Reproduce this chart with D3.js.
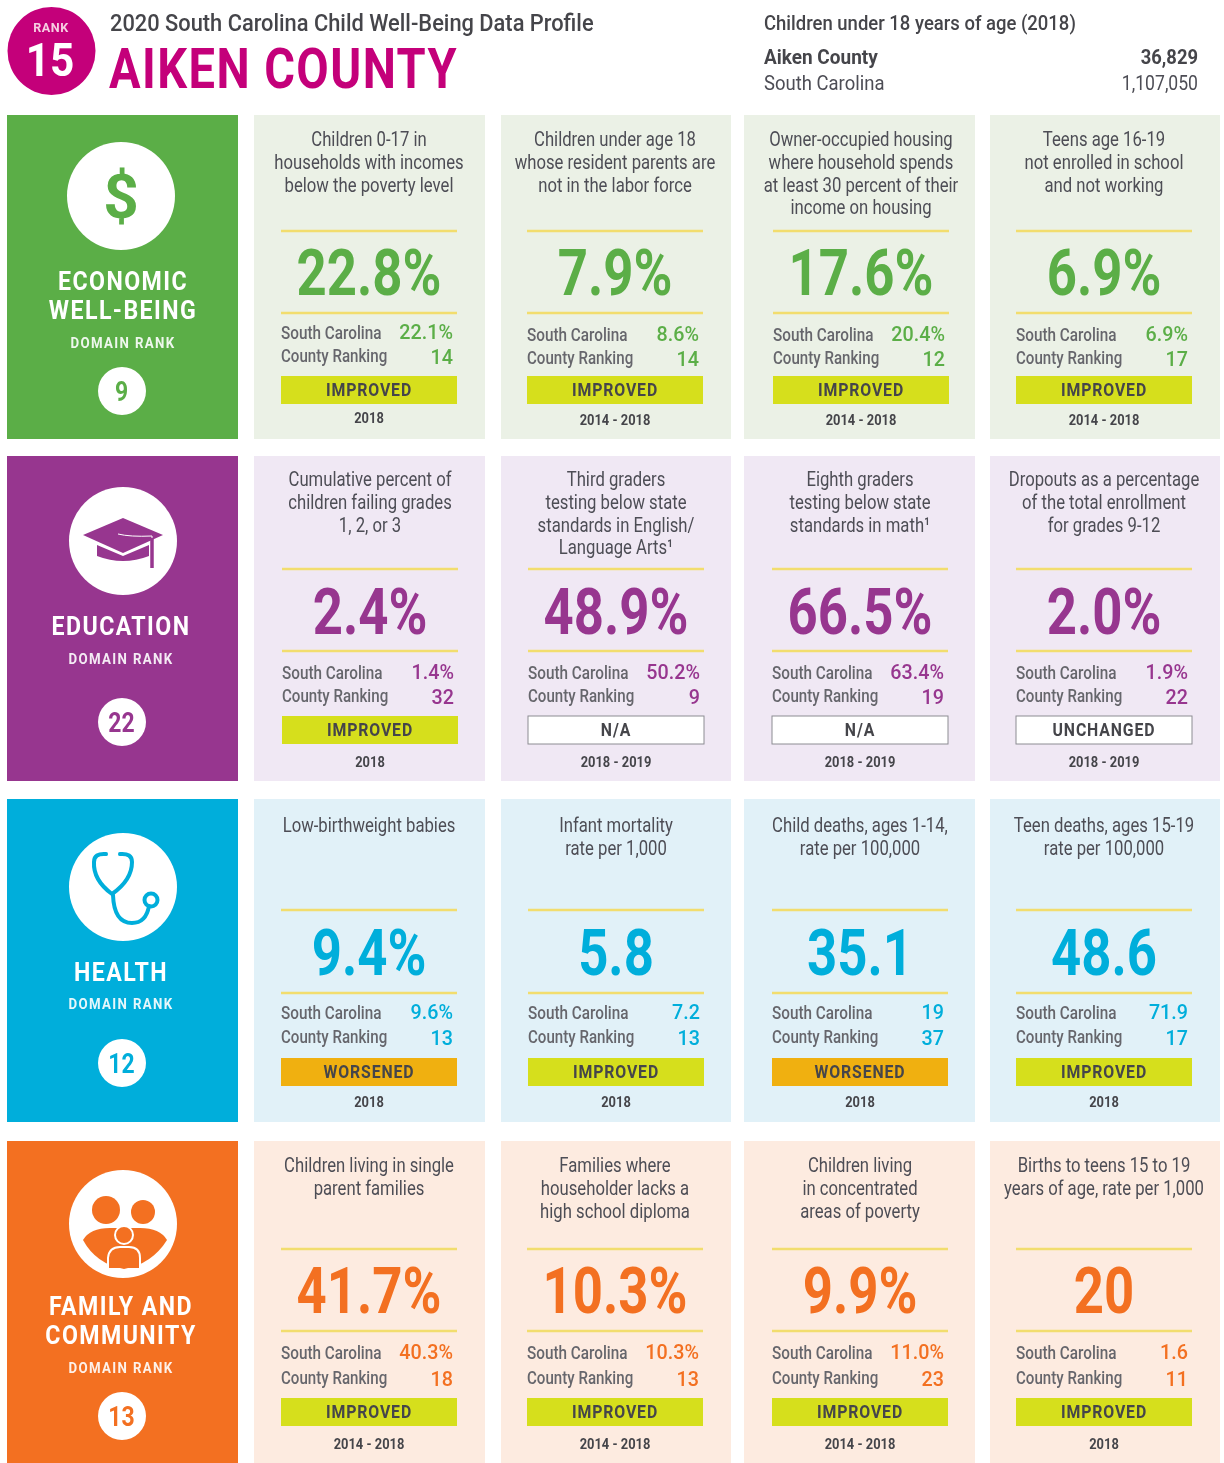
<!DOCTYPE html>
<html>
<head>
<meta charset="utf-8">
<script src="https://cdn.jsdelivr.net/npm/d3@7"></script>
<style>
  html, body { margin: 0; padding: 0; background: #fff; overflow: hidden; }
  text { font-family: Roboto, sans-serif; }
  svg { filter: blur(0.45px); }
</style>
</head>
<body>
<div id="myChart"></div>
<script>
// data
const domains = [["ECONOMIC", "WELL-BEING"], ["EDUCATION"], ["HEALTH"], ["FAMILY AND", "COMMUNITY"]];
const domainRanks = [9, 22, 12, 13];

const descriptions = [
  ["Children 0-17 in|households with incomes|below the poverty level",
   "Children under age 18|whose resident parents are|not in the labor force",
   "Owner-occupied housing|where household spends|at least 30 percent of their|income on housing",
   "Teens age 16-19|not enrolled in school|and not working"],
  ["Cumulative percent of|children failing grades|1, 2, or 3",
   "Third graders|testing below state|standards in English/|Language Arts¹",
   "Eighth graders|testing below state|standards in math¹",
   "Dropouts as a percentage|of the total enrollment|for grades 9-12"],
  ["Low-birthweight babies",
   "Infant mortality|rate per 1,000",
   "Child deaths, ages 1-14,|rate per 100,000",
   "Teen deaths, ages 15-19|rate per 100,000"],
  ["Children living in single|parent families",
   "Families where|householder lacks a|high school diploma",
   "Children living|in concentrated|areas of poverty",
   "Births to teens 15 to 19|years of age, rate per 1,000"]
];
const countyValues = [
  ["22.8%", "7.9%", "17.6%", "6.9%"],
  ["2.4%", "48.9%", "66.5%", "2.0%"],
  ["9.4%", "5.8", "35.1", "48.6"],
  ["41.7%", "10.3%", "9.9%", "20"]
];
const stateValues = [
  ["22.1%", "8.6%", "20.4%", "6.9%"],
  ["1.4%", "50.2%", "63.4%", "1.9%"],
  ["9.6%", "7.2", "19", "71.9"],
  ["40.3%", "10.3%", "11.0%", "1.6"]
];
const countyRanks = [
  [14, 14, 12, 17],
  [32, 9, 19, 22],
  [13, 13, 37, 17],
  [18, 13, 23, 11]
];
const statuses = [
  ["IMPROVED", "IMPROVED", "IMPROVED", "IMPROVED"],
  ["IMPROVED", "N/A", "N/A", "UNCHANGED"],
  ["WORSENED", "IMPROVED", "WORSENED", "IMPROVED"],
  ["IMPROVED", "IMPROVED", "IMPROVED", "IMPROVED"]
];
const periods = [
  ["2018", "2014 - 2018", "2014 - 2018", "2014 - 2018"],
  ["2018", "2018 - 2019", "2018 - 2019", "2018 - 2019"],
  ["2018", "2018", "2018", "2018"],
  ["2014 - 2018", "2014 - 2018", "2014 - 2018", "2018"]
];

// colours
const strong = ["#5bae47", "#97368f", "#00aedb", "#f37021"];
const pale = ["#ebf1e6", "#f0e8f4", "#e1f1f8", "#fdebe0"];
const statusFill = d3.scaleOrdinal(
  ["IMPROVED", "WORSENED", "N/A", "UNCHANGED"],
  ["#d6df1c", "#f0b010", "#ffffff", "#ffffff"]
);
const magenta = "#c4007a", ink = "#4d4d55", dark = "#45454a", rule = "#f2dd6e";

// layout
const rows = d3.range(4), cols = d3.range(4);
const rowTop = d3.scaleOrdinal(rows, [115, 456, 799, 1141]);
const rowHeight = d3.scaleOrdinal(rows, [324, 325, 323, 330]);
const colLeft = d3.scaleOrdinal(cols, [254, 501, 744, 990]);
const colWidth = d3.scaleOrdinal(cols, [231, 230, 231, 230]);
const ruleLeft = d3.scaleOrdinal(cols, [281, 527, 772, 1016]);
const ruleWidth = 176;

// y positions inside each row
const descY = d3.scaleOrdinal(rows, [139, 479, 825, 1165]);
const rule1Y = d3.scaleOrdinal(rows, [231, 569, 910, 1249]);
const rule2Y = d3.scaleOrdinal(rows, [313, 651, 993, 1331]);
const bigY = d3.scaleOrdinal(rows, [272, 611, 952, 1290]);
const stateY = d3.scaleOrdinal(rows, [335, 673, 1013, 1353]);
const rankY = d3.scaleOrdinal(rows, [358, 696, 1037, 1378]);
const barY = d3.scaleOrdinal(rows, [376, 716, 1058, 1398]);
const periodY = d3.scaleOrdinal(rows, [420, 762, 1102, 1444]);

const svg = d3
  .select("#myChart")
  .append("svg")
  .attr("width", 1224)
  .attr("height", 1463)
  .style("display", "block");

// draw horizontally squeezed text, the original uses a condensed face
function label(parent, x, y, str, o) {
  return parent
    .append("text")
    .attr("transform", "translate(" + x + "," + y + ") scale(" + (o.sx || 0.8) + ",1)")
    .attr("dy", ".36em")
    .attr("text-anchor", o.anchor || "middle")
    .attr("font-size", o.size)
    .attr("font-weight", o.weight || 400)
    .attr("letter-spacing", o.spacing || 0)
    .attr("fill", o.fill || ink)
    .text(str);
}

// header
svg.append("circle").attr("cx", 51.5).attr("cy", 51).attr("r", 44).attr("fill", magenta);
label(svg, 51, 28, "RANK", { size: 12, weight: 700, fill: "#f6cfe2", sx: 1.05, spacing: 0.5 });
label(svg, 50, 59, "15", { size: 46, weight: 700, fill: "#fff", sx: 0.92 });
label(svg, 110, 22, "2020 South Carolina Child Well-Being Data Profile", { size: 24, weight: 500, fill: dark, anchor: "start", sx: 0.91 });
label(svg, 109, 68, "AIKEN COUNTY", { size: 56, weight: 700, fill: magenta, anchor: "start", sx: 0.84, spacing: 1.7 });
label(svg, 764, 23, "Children under 18 years of age (2018)", { size: 20, weight: 500, fill: dark, anchor: "start", sx: 0.925 });
label(svg, 764, 57, "Aiken County", { size: 20, weight: 700, fill: dark, anchor: "start", sx: 0.95 });
label(svg, 1198, 57, "36,829", { size: 20, weight: 700, fill: dark, anchor: "end", sx: 0.92 });
label(svg, 764, 83, "South Carolina", { size: 20, fill: ink, anchor: "start", sx: 0.925 });
label(svg, 1198, 83, "1,107,050", { size: 20, fill: ink, anchor: "end", sx: 0.88 });

// domain panels on the left
const iconCenters = [[121, 196], [123, 541], [123, 887], [123, 1224]];
const titleY = [[281, 310], [626], [972], [1306, 1335]];
const domainRankY = [343, 659, 1004, 1368];
const rankCircleY = [391, 722, 1063, 1416];

rows.forEach((r) => {
  const g = svg.append("g");
  g.append("rect")
    .attr("x", 7).attr("y", rowTop(r))
    .attr("width", 231).attr("height", rowHeight(r))
    .attr("fill", strong[r]);
  g.append("circle")
    .attr("cx", iconCenters[r][0]).attr("cy", iconCenters[r][1])
    .attr("r", 54).attr("fill", "#fff");
  domains[r].forEach((line, i) => {
    label(g, r === 0 ? 123 : 121, titleY[r][i], line, { size: 26, weight: 700, fill: "#fff", sx: 0.89, spacing: 1.6 });
  });
  label(g, r === 0 ? 123 : 121, domainRankY[r], "DOMAIN RANK", { size: 14, weight: 700, fill: "#fff", sx: 0.95, spacing: 1.4 }).attr("opacity", 0.9);
  g.append("circle").attr("cx", 122).attr("cy", rankCircleY[r]).attr("r", 24).attr("fill", "#fff");
  label(g, 121.5, rankCircleY[r], domainRanks[r], { size: 27, weight: 700, fill: strong[r], sx: 0.85 });
});

// icons
label(svg, 121, 196, "$", { size: 62, weight: 700, fill: strong[0], sx: 1 });

const cap = svg.append("g").attr("fill", strong[1]);
cap.append("path").attr("d", "M97,545 L123,556 L149,545 L149,556 Q123,566 97,556 Z");
cap.append("path").attr("d", "M83,535 L123,518 L163,535 L123,553 Z");
cap.append("path").attr("d", "M118,534 Q130,537 152,536 L152,565").attr("fill", "none").attr("stroke", "#fff").attr("stroke-width", 1);
cap.append("path").attr("d", "M152,538 L152,568").attr("stroke", strong[1]).attr("stroke-width", 3.5);

const steth = svg.append("g").attr("fill", "none").attr("stroke", strong[2]).attr("stroke-width", 4).attr("stroke-linecap", "round");
steth.append("path").attr("d", "M106,854 Q94,853 94,862 Q93,880 112,894 Q132,880 132,862 Q132,853 120,854");
steth.append("path").attr("d", "M113,895 Q114,923 132,923 Q146,923 149,906");
steth.append("circle").attr("cx", 151).attr("cy", 900).attr("r", 6.5);

const family = svg.append("g").attr("fill", strong[3]);
family.append("circle").attr("cx", 106).attr("cy", 1210).attr("r", 14);
family.append("circle").attr("cx", 143).attr("cy", 1212).attr("r", 12);
family.append("path").attr("d", "M83,1240 Q90,1228 110,1228 L140,1228 Q160,1228 167,1240 Q152,1264 124,1269 Q96,1264 83,1240 Z");
family.append("circle").attr("cx", 124).attr("cy", 1235).attr("r", 9).attr("stroke", "#fff").attr("stroke-width", 2);
family.append("path").attr("d", "M108,1268 L108,1258 Q109,1247 120,1247 L129,1247 Q140,1247 140,1258 L140,1268").attr("stroke", "#fff").attr("stroke-width", 2);

// indicator cards
const cells = rows.flatMap((r) => cols.map((c) => ({ r, c })));

const card = svg
  .selectAll(".card")
  .data(cells)
  .enter()
  .append("g")
  .attr("class", "card");

card.append("rect")
  .attr("x", (d) => colLeft(d.c))
  .attr("y", (d) => rowTop(d.r))
  .attr("width", (d) => colWidth(d.c))
  .attr("height", (d) => rowHeight(d.r))
  .attr("fill", (d) => pale[d.r]);

card.each(function (d) {
  const g = d3.select(this);
  const left = ruleLeft(d.c) + (d.r === 1 && d.c < 2 ? 1 : 0) + (d.r === 2 && d.c === 1 ? 1 : 0) + (d.r === 0 && d.c === 2 ? 1 : 0);
  const right = left + ruleWidth;
  const mid = (left + right) / 2;
  // first cell of the first row sits a little higher than the others
  const nudge = d.r === 0 && d.c === 0 ? -2 : 0;

  descriptions[d.r][d.c].split("|").forEach((line, i) => {
    label(g, mid, descY(d.r) + i * 22.7, line, { size: 20, sx: 0.835 });
  });

  [rule1Y(d.r), rule2Y(d.r)].forEach((y) => {
    g.append("line")
      .attr("x1", left).attr("x2", right)
      .attr("y1", y).attr("y2", y)
      .attr("stroke", rule).attr("stroke-width", 2.5);
  });

  label(g, mid, bigY(d.r), countyValues[d.r][d.c], { size: 65, weight: 700, fill: strong[d.r], sx: 0.81 });

  label(g, left, stateY(d.r) + nudge, "South Carolina", { size: 18, weight: 500, fill: "#66666c", anchor: "start", sx: 0.85 });
  label(g, left, rankY(d.r) + nudge, "County Ranking", { size: 18, weight: 500, fill: "#66666c", anchor: "start", sx: 0.84 });
  label(g, right - 4, stateY(d.r) + nudge - 2, stateValues[d.r][d.c], { size: 21, weight: 500, fill: strong[d.r], anchor: "end", sx: 0.94 });
  label(g, right - 4, rankY(d.r) + nudge, countyRanks[d.r][d.c], { size: 21, weight: 500, fill: strong[d.r], anchor: "end", sx: 0.94 });

  const s = statuses[d.r][d.c];
  g.append("rect")
    .attr("x", left).attr("y", barY(d.r))
    .attr("width", ruleWidth).attr("height", 28)
    .attr("fill", statusFill(s))
    .attr("stroke", statusFill(s) === "#ffffff" ? "#8c8c92" : "none")
    .attr("stroke-width", 1);
  label(g, mid, barY(d.r) + 14, s, { size: 18, weight: 700, fill: dark, sx: 0.88, spacing: 1 });

  label(g, mid, periodY(d.r) + nudge, periods[d.r][d.c], { size: 14.5, weight: 700, fill: dark, sx: 0.89 });
});
</script>
</body>
</html>
